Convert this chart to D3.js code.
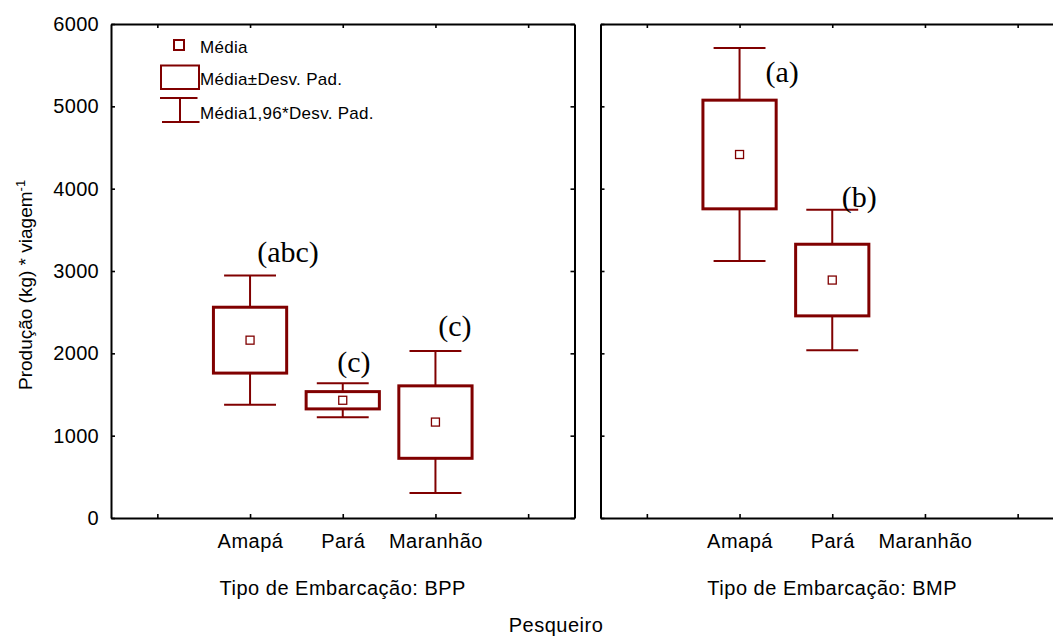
<!DOCTYPE html>
<html>
<head>
<meta charset="utf-8">
<script src="https://cdn.jsdelivr.net/npm/d3@7"></script>
<style>
  html, body { margin: 0; padding: 0; background: #fff; }
  svg { display: block; }
  text { font-family: "Liberation Sans", Arial, sans-serif; fill: #000; }
  .serif { font-family: "Liberation Serif", "Times New Roman", serif; }
</style>
</head>
<body>
<svg id="chart" width="1053" height="637"></svg>
<script>
// Production per trip, by fishing port, for each vessel type (mean and standard deviation)
const categories = ["Amapá", "Pará", "Maranhão"];
const panels = ["BPP", "BMP"];
const meanBPP = [2160, 1430, 1165];
const sdBPP   = [400, 105, 440];
const meanBMP = [4415, 2890, null];
const sdBMP   = [660, 435, null];
const lettersBPP = ["(abc)", "(c)", "(c)"];
const lettersBMP = ["(a)", "(b)", null];
const yTicks = [0, 1000, 2000, 3000, 4000, 5000, 6000];
const zFactor = 1.96;

const COLOR = "#800000";
const svg = d3.select("#chart");

const y = d3.scaleLinear().domain([0, 6000]).range([518, 24]);

// Slot layout: an empty slot on each side of the three ports
const slots = ["_a", ...categories, "_b"];
const panelRanges = [[111, 574.5], [600.5, 1064]];

// Annotation placement for the significance letters (value units and step fractions)
const letterY  = [[3109, 1777, 2211], [5299, 3781, null]];
const letterDx = [[0.41, 0.12, 0.21], [0.46, 0.29, null]];

const means = [meanBPP, meanBMP];
const sds = [sdBPP, sdBMP];
const letters = [lettersBPP, lettersBMP];

panels.forEach((p, pi) => {
  const [x0, x1] = panelRanges[pi];
  const x = d3.scalePoint().domain(slots).range([x0, x1]).padding(0.5);
  const step = x.step();
  const g = svg.append("g");

  // frame with inward ticks on all four sides
  const axisStyle = sel => {
    sel.select(".domain").attr("stroke", "#000").attr("stroke-width", 2);
    sel.selectAll(".tick line").attr("stroke", "#000").attr("stroke-width", 1.6);
  };
  const left = g.append("g").attr("transform", `translate(${x0},0)`)
    .call(d3.axisLeft(y).tickValues(yTicks).tickSize(-4).tickSizeOuter(0).tickPadding(12)
      .tickFormat(pi === 0 ? d3.format("d") : () => ""))
    .call(axisStyle);
  left.selectAll(".tick text").style("font-size", "20px").style("letter-spacing", "0.3px")
    .attr("font-family", null);

  g.append("g").attr("transform", `translate(${x1},0)`)
    .call(d3.axisRight(y).tickValues(yTicks).tickSize(-4).tickSizeOuter(0).tickFormat(() => ""))
    .call(axisStyle);

  const bottom = g.append("g").attr("transform", `translate(0,${y(0)})`)
    .call(d3.axisBottom(x).tickSize(-4).tickSizeOuter(0).tickPadding(16)
      .tickFormat(d => categories.includes(d) ? d : ""))
    .call(axisStyle);
  bottom.selectAll(".tick text").style("font-size", "20px").style("letter-spacing", "0.5px")
    .attr("font-family", null);

  g.append("g").attr("transform", `translate(0,${y(6000)})`)
    .call(d3.axisTop(x).tickSize(-4).tickSizeOuter(0).tickFormat(() => ""))
    .call(axisStyle);

  // panel label
  g.append("text")
    .attr("x", (x0 + x1) / 2).attr("y", 595)
    .attr("text-anchor", "middle")
    .style("font-size", "20px").style("letter-spacing", "0.5px")
    .text("Tipo de Embarcação: " + p);

  // box-and-whisker marks
  const data = categories.map((c, i) => ({
    cat: c, mean: means[pi][i], sd: sds[pi][i], letter: letters[pi][i],
    ly: letterY[pi][i], ldx: letterDx[pi][i]
  })).filter(d => d.mean != null);

  const boxW = step * 0.79, capW = step * 0.56, markS = 8;
  const marks = g.append("g");
  data.forEach(d => {
    const cx = x(d.cat);
    const hiW = y(d.mean + zFactor * d.sd), loW = y(d.mean - zFactor * d.sd);
    const hiB = y(d.mean + d.sd), loB = y(d.mean - d.sd);
    // whiskers
    marks.append("line").attr("x1", cx).attr("x2", cx).attr("y1", hiW).attr("y2", hiB)
      .attr("stroke", COLOR).attr("stroke-width", 2);
    marks.append("line").attr("x1", cx).attr("x2", cx).attr("y1", loB).attr("y2", loW)
      .attr("stroke", COLOR).attr("stroke-width", 2);
    marks.append("line").attr("x1", cx - capW / 2).attr("x2", cx + capW / 2).attr("y1", hiW).attr("y2", hiW)
      .attr("stroke", COLOR).attr("stroke-width", 2);
    marks.append("line").attr("x1", cx - capW / 2).attr("x2", cx + capW / 2).attr("y1", loW).attr("y2", loW)
      .attr("stroke", COLOR).attr("stroke-width", 2);
    // mean ± sd box
    marks.append("rect").attr("x", cx - boxW / 2).attr("y", hiB)
      .attr("width", boxW).attr("height", loB - hiB)
      .attr("fill", "none").attr("stroke", COLOR).attr("stroke-width", 3);
    // mean marker
    marks.append("rect").attr("x", cx - markS / 2).attr("y", y(d.mean) - markS / 2)
      .attr("width", markS).attr("height", markS)
      .attr("fill", "#fff").attr("stroke", COLOR).attr("stroke-width", 1.3);
    // significance letter
    if (d.letter) {
      marks.append("text").attr("class", "serif")
        .attr("x", cx + d.ldx * step).attr("y", y(d.ly))
        .attr("text-anchor", "middle").style("font-size", "30px")
        .text(d.letter);
    }
  });
});

// Y axis title
const yTitle = svg.append("text")
  .attr("transform", "translate(32,390) rotate(-90)")
  .attr("text-anchor", "start")
  .style("font-size", "19px");
yTitle.append("tspan").text("Produção (kg) * viagem");
yTitle.append("tspan").attr("dy", "-0.55em").style("font-size", "13px").text("-1");

// X axis title
svg.append("text").attr("x", 556).attr("y", 631.5).attr("text-anchor", "middle")
  .style("font-size", "20px").style("letter-spacing", "0.5px").text("Pesqueiro");

// Legend
const lg = svg.append("g");
lg.append("rect").attr("x", 174).attr("y", 40).attr("width", 10).attr("height", 10)
  .attr("fill", "#fff").attr("stroke", COLOR).attr("stroke-width", 2);
lg.append("rect").attr("x", 161).attr("y", 65.5).attr("width", 38).attr("height", 23.5)
  .attr("fill", "none").attr("stroke", COLOR).attr("stroke-width", 2);
lg.append("line").attr("x1", 160).attr("x2", 197.5).attr("y1", 98).attr("y2", 98)
  .attr("stroke", COLOR).attr("stroke-width", 2);
lg.append("line").attr("x1", 180).attr("x2", 180).attr("y1", 98).attr("y2", 122)
  .attr("stroke", COLOR).attr("stroke-width", 2);
lg.append("line").attr("x1", 162).attr("x2", 199.5).attr("y1", 122).attr("y2", 122)
  .attr("stroke", COLOR).attr("stroke-width", 2);
const legendLabels = ["Média", "Média±Desv. Pad.", "Média1,96*Desv. Pad."];
const legendBase = [53.3, 85, 119.3];
legendLabels.forEach((t, i) => {
  lg.append("text").attr("x", 200).attr("y", legendBase[i])
    .style("font-size", "17px").style("letter-spacing", "0.3px").text(t);
});
</script>
</body>
</html>
